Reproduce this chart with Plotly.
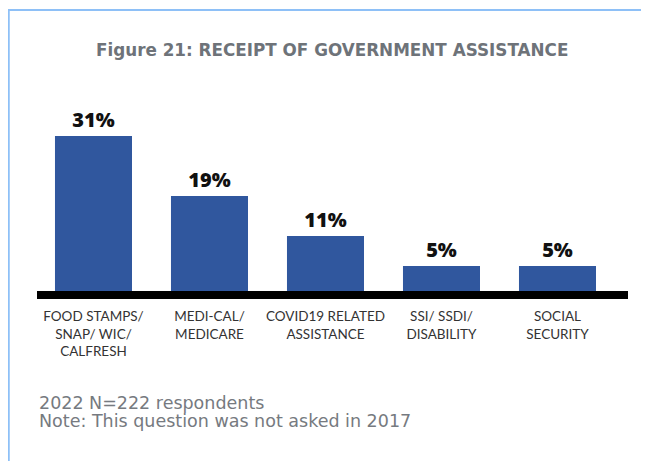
import plotly.graph_objects as go

categories = ["FOOD STAMPS/<br>SNAP/ WIC/<br>CALFRESH", "MEDI-CAL/<br>MEDICARE",
              "COVID19 RELATED<br>ASSISTANCE", "SSI/ SSDI/<br>DISABILITY", "SOCIAL<br>SECURITY"]
values = [31, 19, 11, 5, 5]
value_labels = ["31%", "19%", "11%", "5%", "5%"]
title_text = "Figure 21: RECEIPT OF GOVERNMENT ASSISTANCE"
note_lines = ["2022 N=222 respondents", "Note: This question was not asked in 2017"]

# page body adds an 8px offset; build the figure in window pixel coordinates
OFF = 8
W, H = 649 - OFF, 461 - OFF
L, R, T, B = 37 - OFF, 628 - OFF, 89 - OFF, 291 - OFF
PW, PH = R - L, B - T

def px(x):
    return (x - OFF - L) / PW

def py(y):
    return (B - (y - OFF)) / PH

fig = go.Figure(go.Bar(
    x=list(range(len(categories))), y=values,
    text=value_labels, textposition="outside",
    textfont=dict(family="Open Sans", size=20, color="#111111", weight=800),
    marker=dict(color="#30579e", line=dict(width=0)),
    width=0.664, cliponaxis=False,
))

fig.update_layout(
    width=W, height=H,
    margin=dict(l=L, r=W - R, t=T, b=H - B, autoexpand=False),
    paper_bgcolor="white", plot_bgcolor="white",
    showlegend=False,
    xaxis=dict(range=[-0.487, -0.487 + PW / 116], tickmode="array",
               tickvals=list(range(len(categories))), ticktext=categories,
               showline=True, linecolor="black", linewidth=8,
               showgrid=False, zeroline=False, ticks="", automargin=False,
               ticklabelstandoff=6,
               tickfont=dict(family="Lato", size=13.5, color="#333333")),
    yaxis=dict(range=[0, PH / 5.0], visible=False, showgrid=False, zeroline=False,
               automargin=False),
    annotations=[
        dict(text=title_text, xref="paper", yref="paper", x=px(332), y=py(50),
             xanchor="center", yanchor="middle", showarrow=False,
             font=dict(family="DejaVu Sans", size=16.8, color="#6e7379", weight=700)),
        dict(text=note_lines[0], xref="paper", yref="paper", x=px(37), y=py(403),
             xanchor="left", yanchor="middle", showarrow=False,
             font=dict(family="DejaVu Sans", size=17.5, color="#767a80")),
        dict(text=note_lines[1], xref="paper", yref="paper", x=px(37), y=py(421),
             xanchor="left", yanchor="middle", showarrow=False,
             font=dict(family="DejaVu Sans", size=17.5, color="#767a80")),
    ],
    shapes=[
        dict(type="line", xref="paper", yref="paper", x0=px(7), x1=px(649), y0=py(10), y1=py(10),
             line=dict(color="#8ec0f7", width=2)),
        dict(type="line", xref="paper", yref="paper", x0=px(8.5), x1=px(8.5), y0=py(9), y1=py(461),
             line=dict(color="#8ec0f7", width=2.5)),
    ],
)

fig.write_html("out.html")
